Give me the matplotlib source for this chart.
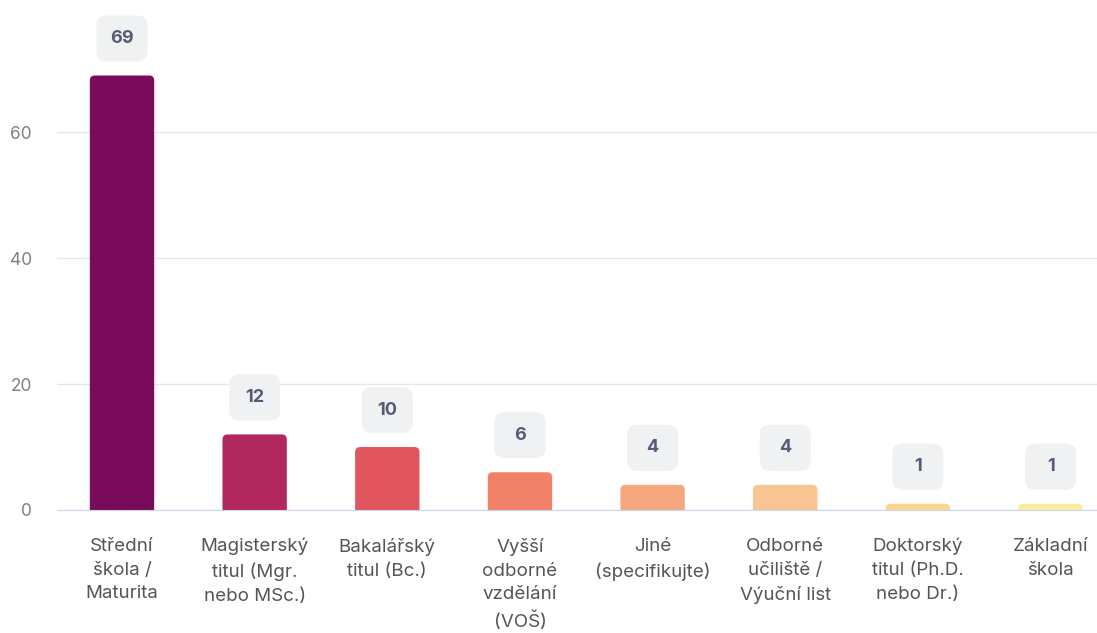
import matplotlib.pyplot as plt
import matplotlib.transforms as mtransforms
from matplotlib.patches import FancyBboxPatch

categories = ["Střední\nškola /\nMaturita", "Magisterský\ntitul (Mgr.\nnebo MSc.)",
              "Bakalářský\ntitul (Bc.)", "Vyšší\nodborné\nvzdělání\n(VOŠ)",
              "Jiné\n(specifikujte)", "Odborné\nučiliště /\nVýuční list",
              "Doktorský\ntitul (Ph.D.\nnebo Dr.)", "Základní\nškola"]
values = [69, 12, 10, 6, 4, 4, 1, 1]
colors = ["#790a5c", "#b0285e", "#e0555e", "#f2816a", "#f5a87d",
          "#f8c592", "#fad690", "#f8eca0"]
yticks = [0, 20, 40, 60]

plt.rcParams['font.family'] = ['Inter', 'DejaVu Sans']

fig = plt.figure(figsize=(10.97, 6.33), dpi=100)
ax = fig.add_axes([57/1097, 123/633, 1 - 57/1097, 500/633])

ax.set_xlim(-0.49, 7.35)
ax.set_ylim(0, 79.4)

# px per data unit, for rounding the bar tops
xpx = 1040 / (7.35 + 0.49)
ypx = 500 / 79.4
r = 5 / xpx

for i, (v, c) in enumerate(zip(values, colors)):
    w = 0.485
    bar = FancyBboxPatch((i - w/2 + r, -3 + r * xpx / ypx), w - 2*r, v + 3 - 2*r * xpx / ypx,
                         boxstyle=f"round,pad={r},rounding_size={r}",
                         mutation_aspect=xpx / ypx, facecolor=c, edgecolor='none',
                         zorder=3, clip_on=True)
    ax.add_patch(bar)
    # label box, fixed size in pixels, above bar top
    tr = mtransforms.ScaledTranslation(i, v, ax.transData)
    box = FancyBboxPatch((-25.5 + 10, 14 + 10), 51 - 20, 46 - 20,
                         boxstyle="round,pad=10,rounding_size=10",
                         facecolor="#f0f1f2", edgecolor='none',
                         transform=mtransforms.IdentityTransform() + tr, zorder=4, clip_on=False)
    ax.add_artist(box)
    ax.annotate(str(v), (i, v), xytext=(0, 37 * 72 / 100), textcoords='offset points',
                ha='center', va='center', fontsize=13, fontweight='bold',
                color="#5a5a78", zorder=5)

ax.set_yticks(yticks)
ax.set_xticks(range(len(categories)))
ax.set_xticklabels(categories, linespacing=1.52, fontsize=13.5, color="#555555")
ax.tick_params(axis='x', length=0, pad=20)
ax.tick_params(axis='y', length=0, pad=18, labelsize=12.5, labelcolor="#808080")

ax.grid(axis='y', color="#e6e6e6", linewidth=1, zorder=0)
for s in ['top', 'right', 'left']:
    ax.spines[s].set_visible(False)
ax.spines['bottom'].set_color("#ccd6eb")
ax.spines['bottom'].set_zorder(6)

fig.savefig("out.png", dpi=100)
